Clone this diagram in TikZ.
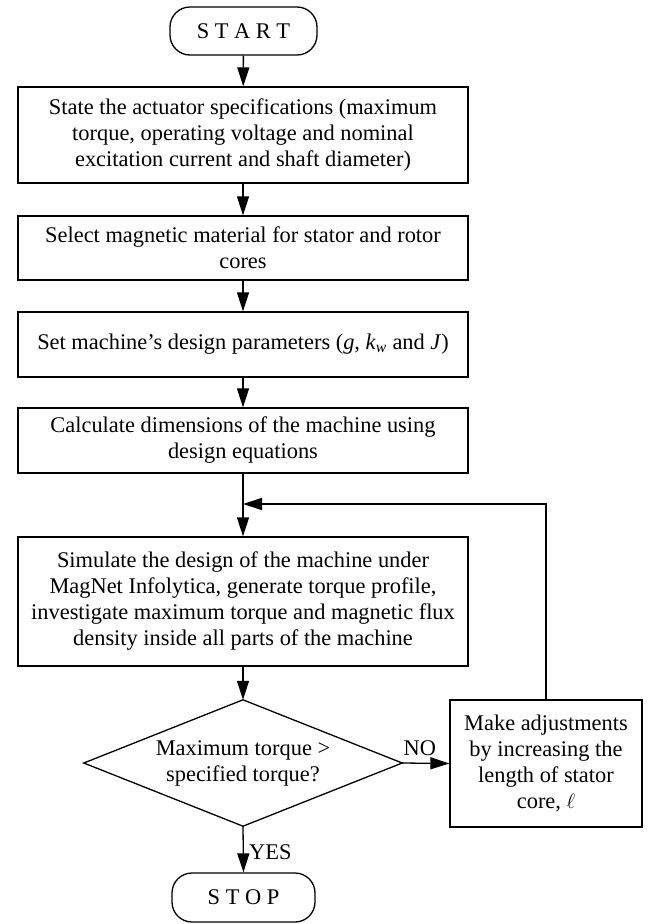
\documentclass[tikz,border=0pt]{standalone}
\usepackage{fontspec}
\setmainfont{Liberation Serif}
\usetikzlibrary{arrows.meta}
\begin{document}
\begin{tikzpicture}[x=1pt,y=-1pt,
  every node/.style={font=\fontsize{22.4}{26}\selectfont},
  procbox/.style={draw,line width=1.3pt,minimum width=450pt,inner sep=0pt,align=center},
  term/.style={draw,line width=1.3pt,rounded corners=20pt,inner sep=0pt},
  decarea/.style={minimum width=318pt,minimum height=126pt,inner sep=0pt,align=center},
  flow/.style={line width=1.3pt,-{Triangle[length=19pt,width=12pt]}},
  plain/.style={line width=1.3pt,line join=miter}]
\useasboundingbox (0,0) rectangle (651,924);
\node[term,minimum width=147pt,minimum height=48pt] (start) at (243.5,31) {S T A R T};
\node[procbox,minimum height=96pt] (b1) at (243,135) {State the actuator specifications (maximum\\torque, operating voltage and nominal\\excitation current and shaft diameter)};
\node[procbox,minimum height=64pt] (b2) at (243,248) {Select magnetic material for stator and rotor\\cores};
\node[procbox,minimum height=65pt] (b3) at (243,344.5) {Set machine’s design parameters (\textit{g}, \textit{k}\textsubscript{\textit{w}} and \textit{J})};
\node[procbox,minimum height=65pt] (b4) at (243,440.5) {Calculate dimensions of the machine using\\design equations};
\node[procbox,minimum height=129pt] (b5) at (243,601.5) {Simulate the design of the machine under\\MagNet Infolytica, generate torque profile,\\investigate maximum torque and magnetic flux\\density inside all parts of the machine};
\node[decarea] (dec) at (243,763) {Maximum torque >\\specified torque?};
\draw[plain] (dec.north) -- (dec.east) -- (dec.south) -- (dec.west) -- cycle;
\node[procbox,minimum width=192pt,minimum height=127pt] (adj) at (546,763.5) {Make adjustments\\by increasing the\\length of stator\\core, $\ell$};
\node[term,minimum width=143pt,minimum height=49pt] (stop) at (243.5,897.5) {S T O P};
\coordinate (fbc) at (546,504);
\coordinate (merge) at (243,504);
\draw[flow] (start) -- (b1);
\draw[flow] (b1) -- (b2);
\draw[flow] (b2) -- (b3);
\draw[flow] (b3) -- (b4);
\draw[flow] (b4) -- (b5);
\draw[flow] (b5) -- (dec.north);
\draw[flow] (dec.east) -- node[above,xshift=-6pt,yshift=4pt] (no) {NO} (adj.west);
\draw[flow] (dec.south) -- node[right,xshift=2pt,yshift=-3pt] (yes) {YES} (stop.north);
\draw[flow] (adj.north) -- (fbc) -- (merge);
\end{tikzpicture}
\end{document}
